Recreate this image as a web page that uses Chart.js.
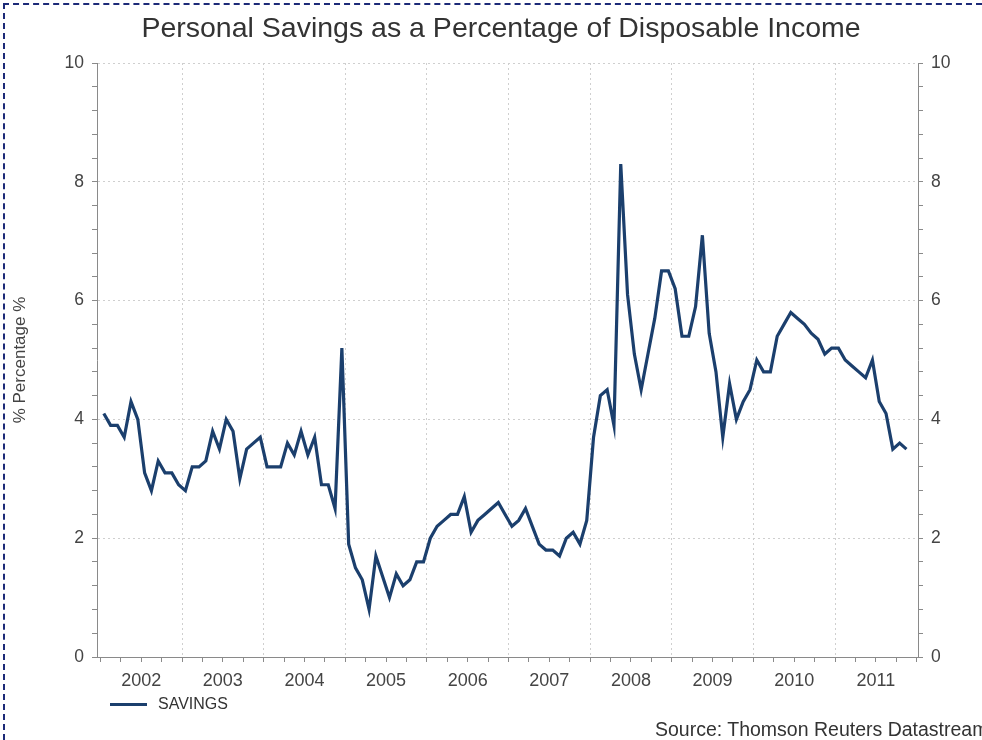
<!DOCTYPE html>
<html>
<head>
<meta charset="utf-8">
<title>Personal Savings</title>
<script src="https://cdn.jsdelivr.net/npm/chart.js@4"></script>
<style>
  html, body { margin: 0; padding: 0; background: #fff; }
  body { width: 982px; height: 740px; position: relative; overflow: hidden; font-family: "Liberation Sans", Arial, sans-serif; }
  .frame { position: absolute; left: 3px; top: 3px; right: 0; bottom: 0; border-top: 2px dashed #1c2a78; border-left: 2px dashed #1c2a78; }
  #wrap { position: absolute; left: 0; top: 0; width: 982px; height: 740px; }
  .title { position: absolute; left: 0; width: 1002px; top: 11px; text-align: center; font-size: 28.5px; color: #333; }
  .legend { position: absolute; left: 110px; top: 695px; font-size: 16px; color: #333; }
  .legend span { display: inline-block; width: 37px; height: 3px; background: #1b3f6d; vertical-align: middle; margin-right: 11px; }
  .source { position: absolute; left: 655px; top: 718px; font-size: 19.5px; color: #333; white-space: nowrap; }
</style>
</head>
<body>
<div class="frame"></div>
<div id="wrap"><canvas id="myChart" width="982" height="740"></canvas></div>
<div class="title">Personal Savings as a Percentage of Disposable Income</div>
<div class="legend"><span></span>SAVINGS</div>
<div class="source">Source: Thomson Reuters Datastream</div>
<script>
// monthly savings rate, Jan 2002 .. Nov 2011
const years = [2002, 2003, 2004, 2005, 2006, 2007, 2008, 2009, 2010, 2011];
const savings2002 = [4.1, 3.9, 3.9, 3.7, 4.3, 4.0, 3.1, 2.8, 3.3, 3.1, 3.1, 2.9];
const savings2003 = [2.8, 3.2, 3.2, 3.3, 3.8, 3.5, 4.0, 3.8, 3.0, 3.5, 3.6, 3.7];
const savings2004 = [3.2, 3.2, 3.2, 3.6, 3.4, 3.8, 3.4, 3.7, 2.9, 2.9, 2.5, 5.2];
const savings2005 = [1.9, 1.5, 1.3, 0.8, 1.7, 1.35, 1.0, 1.4, 1.2, 1.3, 1.6, 1.6];
const savings2006 = [2.0, 2.2, 2.3, 2.4, 2.4, 2.7, 2.1, 2.3, 2.4, 2.5, 2.6, 2.4];
const savings2007 = [2.2, 2.3, 2.5, 2.2, 1.9, 1.8, 1.8, 1.7, 2.0, 2.1, 1.9, 2.3];
const savings2008 = [3.7, 4.4, 4.5, 3.9, 8.3, 6.1, 5.1, 4.5, 5.1, 5.7, 6.5, 6.5];
const savings2009 = [6.2, 5.4, 5.4, 5.9, 7.1, 5.45, 4.8, 3.7, 4.6, 4.0, 4.3, 4.5];
const savings2010 = [5.0, 4.8, 4.8, 5.4, 5.6, 5.8, 5.7, 5.6, 5.45, 5.35, 5.1, 5.2];
const savings2011 = [5.2, 5.0, 4.9, 4.8, 4.7, 5.0, 4.3, 4.1, 3.5, 3.6, 3.5];
const yTickLabels = [0, 2, 4, 6, 8, 10];

const savings = [].concat(savings2002, savings2003, savings2004, savings2005, savings2006,
    savings2007, savings2008, savings2009, savings2010, savings2011);

// x runs in months from Jan 2002, each value sits mid-month
const points = savings.map((v, i) => ({ x: i + 0.5, y: v }));

const gridColor = '#cfcfcf';
const axisColor = '#8a8a8a';
const textColor = '#444';
const fontFamily = '"Liberation Sans", Arial, sans-serif';

const isMajor = v => yTickLabels.some(t => Math.abs(t - v) < 1e-6);

const yTicks = scale => {
    const out = [];
    for (let k = 0; k <= 25; k++) out.push({ value: Math.round(k * 4) / 10 });
    scale.ticks = out;
};

const yAxis = (position, width) => ({
    position: position,
    min: 0,
    max: 10,
    afterBuildTicks: yTicks,
    afterFit: scale => { scale.width = width; },
    grid: {
        drawOnChartArea: position === 'left',
        color: c => (c.tick && isMajor(c.tick.value) && c.tick.value > 0) ? gridColor : 'rgba(0,0,0,0)',
        tickColor: axisColor,
        tickLength: 5,
        lineWidth: 1
    },
    border: { display: true, color: axisColor, width: 1, dash: [2, 3] },
    ticks: {
        autoSkip: false,
        padding: 8,
        color: textColor,
        font: { family: fontFamily, size: 17.5 },
        callback: v => isMajor(v) ? String(Math.round(v)) : ''
    }
});

const ctx = document.getElementById('myChart');

new Chart(ctx, {
    type: 'line',
    data: {
        datasets: [{
            label: 'SAVINGS',
            data: points,
            borderColor: '#1b3f6d',
            borderWidth: 3.2,
            pointRadius: 0,
            tension: 0,
            yAxisID: 'y'
        }]
    },
    options: {
        responsive: false,
        animation: false,
        layout: { padding: { top: 63, left: 0, right: 0, bottom: 0 } },
        plugins: {
            legend: { display: false },
            tooltip: { enabled: false }
        },
        scales: {
            x: {
                type: 'linear',
                min: -0.5,
                max: 120.2,
                afterBuildTicks: scale => {
                    const out = [];
                    for (let m = 0; m <= 120; m += 3) out.push({ value: m });
                    scale.ticks = out;
                },
                afterFit: scale => { scale.height = 83; },
                grid: {
                    color: c => (c.tick && c.tick.value % 12 === 0 && c.tick.value > 0 && c.tick.value < 120) ? gridColor : 'rgba(0,0,0,0)',
                    tickColor: axisColor,
                    tickLength: 5
                },
                border: { display: true, color: axisColor, width: 1, dash: [2, 3] },
                ticks: {
                    autoSkip: false,
                    maxRotation: 0,
                    padding: 8,
                    color: textColor,
                    font: { family: fontFamily, size: 18 },
                    callback: v => (v % 12 === 6) ? String(years[(v - 6) / 12]) : ''
                }
            },
            y: Object.assign(yAxis('left', 97), {
                title: {
                    display: true,
                    text: '% Percentage %',
                    color: textColor,
                    font: { family: fontFamily, size: 17 },
                    padding: { top: 10, bottom: 0 }
                }
            }),
            y2: yAxis('right', 64)
        }
    }
});
</script>
</body>
</html>
